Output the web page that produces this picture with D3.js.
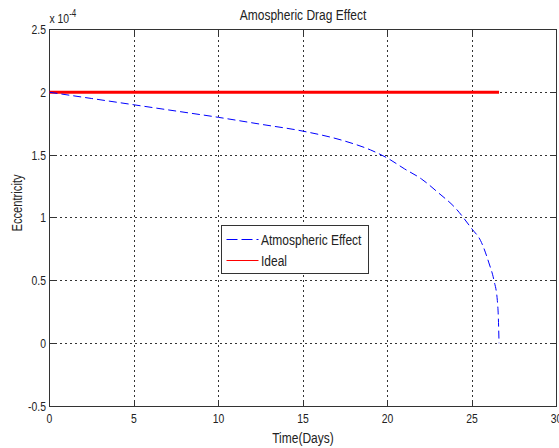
<!DOCTYPE html>
<html>
<head>
<meta charset="utf-8">
<script src="https://cdn.jsdelivr.net/npm/d3@7"></script>
<style>
    body { margin: 0; background: #fff; }
    text { font-family: "Liberation Sans", Arial, sans-serif; fill: #222; }
</style>
</head>
<body>
<div id="plot"></div>
<script>
// values in units of 1e-4
const xTicks = [0, 5, 10, 15, 20, 25, 30];
const yTicks = [-0.5, 0, 0.5, 1, 1.5, 2, 2.5];

const atmDays = [0, 2.5, 5, 7.5, 10, 12.5, 15, 17.5, 19, 20, 21, 22, 23, 24, 25, 25.5, 26, 26.3, 26.5, 26.56, 26.6];
const atmEcc = [2.0, 1.95, 1.9, 1.85, 1.8, 1.745, 1.69, 1.61, 1.54, 1.475, 1.39, 1.31, 1.2, 1.08, 0.91, 0.82, 0.64, 0.5, 0.34, 0.2, 0.0];

const idealDays = [0, 26.6];
const idealEcc = [2, 2];

const legendLabels = ["Atmospheric Effect", "Ideal"];

const width = 559, height = 448;
const margin = { top: 29.5, right: 2.5, bottom: 42, left: 49.5 };
const innerW = width - margin.left - margin.right;
const innerH = height - margin.top - margin.bottom;
const squeeze = 0.8; // the reference text is horizontally condensed

const svg = d3.select("#plot").append("svg")
    .attr("width", width)
    .attr("height", height);

const x = d3.scaleLinear().domain([0, 30]).range([margin.left, margin.left + innerW]);
const y = d3.scaleLinear().domain([-0.5, 2.5]).range([margin.top + innerH, margin.top]);

function narrowAt(px, py, extra = "") {
    return "translate(" + px + "," + py + ")" + extra + " scale(" + squeeze + ",1)";
}

// grid
const grid = svg.append("g")
    .attr("stroke", "#333")
    .attr("stroke-width", 1)
    .attr("stroke-dasharray", "2,3")
    .attr("shape-rendering", "crispEdges");

grid.selectAll("line.v")
    .data(xTicks.slice(1, -1))
    .join("line")
    .attr("x1", d => x(d)).attr("x2", d => x(d))
    .attr("y1", y(2.5)).attr("y2", y(-0.5));

grid.selectAll("line.h")
    .data(yTicks.slice(1, -1))
    .join("line")
    .attr("x1", x(0)).attr("x2", x(30))
    .attr("y1", d => y(d)).attr("y2", d => y(d));

// axes (matlab style ticks inside, box on)
const tickLen = 5;
const axes = svg.append("g")
    .attr("stroke", "#333")
    .attr("stroke-width", 1)
    .attr("shape-rendering", "crispEdges");

xTicks.forEach(d => {
    axes.append("line").attr("x1", x(d)).attr("x2", x(d)).attr("y1", y(-0.5)).attr("y2", y(-0.5) - tickLen);
    axes.append("line").attr("x1", x(d)).attr("x2", x(d)).attr("y1", y(2.5)).attr("y2", y(2.5) + tickLen);
});
yTicks.forEach(d => {
    axes.append("line").attr("x1", x(0)).attr("x2", x(0) + tickLen).attr("y1", y(d)).attr("y2", y(d));
    axes.append("line").attr("x1", x(30)).attr("x2", x(30) - tickLen).attr("y1", y(d)).attr("y2", y(d));
});

axes.append("rect")
    .attr("x", x(0)).attr("y", y(2.5))
    .attr("width", x(30) - x(0)).attr("height", y(-0.5) - y(2.5))
    .attr("fill", "none");

svg.append("g")
    .selectAll("text")
    .data(xTicks)
    .join("text")
    .attr("transform", d => narrowAt(x(d), y(-0.5) + 17))
    .attr("text-anchor", "middle")
    .attr("font-size", "13px")
    .text(d => d);

svg.append("g")
    .selectAll("text")
    .data(yTicks)
    .join("text")
    .attr("transform", d => narrowAt(x(0) - 3.5, y(d) + 4.5))
    .attr("text-anchor", "end")
    .attr("font-size", "13px")
    .text(d => d);

// exponent
const expo = svg.append("text")
    .attr("transform", narrowAt(x(0), 23))
    .attr("font-size", "13px");
expo.append("tspan").text("x 10");
expo.append("tspan").attr("dy", -6).attr("font-size", "10px").text("-4");

// series
const line = d3.line()
    .x(d => x(d[0]))
    .y(d => y(d[1]));

svg.append("path")
    .datum(d3.zip(idealDays, idealEcc))
    .attr("fill", "none")
    .attr("stroke", "#ff0000")
    .attr("stroke-width", 3)
    .attr("d", line);

svg.append("path")
    .datum(d3.zip(atmDays, atmEcc))
    .attr("fill", "none")
    .attr("stroke", "#0000ff")
    .attr("stroke-width", 1)
    .attr("stroke-dasharray", "8,4")
    .attr("d", line.curve(d3.curveMonotoneX));

// title & labels
svg.append("text")
    .attr("transform", narrowAt((x(0) + x(30)) / 2, 20))
    .attr("text-anchor", "middle")
    .attr("font-size", "15px")
    .text("Amospheric Drag Effect");

svg.append("text")
    .attr("transform", narrowAt((x(0) + x(30)) / 2, 443))
    .attr("text-anchor", "middle")
    .attr("font-size", "15px")
    .text("Time(Days)");

svg.append("text")
    .attr("transform", narrowAt(21.5, 203, " rotate(-90)"))
    .attr("text-anchor", "middle")
    .attr("font-size", "14px")
    .text("Eccentricity");

// legend
const legend = svg.append("g").attr("transform", "translate(221,225)");
legend.append("rect")
    .attr("width", 147).attr("height", 48)
    .attr("fill", "#fff")
    .attr("stroke", "#333")
    .attr("shape-rendering", "crispEdges");

const legendStyles = [
    { color: "#0000ff", dash: "11,4", w: 1 },
    { color: "#ff0000", dash: null, w: 1 }
];
legendLabels.forEach((label, i) => {
    const ly = 14.5 + i * 21;
    legend.append("line")
        .attr("x1", 5.5).attr("x2", 37.5)
        .attr("y1", ly).attr("y2", ly)
        .attr("stroke", legendStyles[i].color)
        .attr("stroke-width", legendStyles[i].w)
        .attr("stroke-dasharray", legendStyles[i].dash);
    legend.append("text")
        .attr("transform", "translate(40," + (ly + 5) + ") scale(" + squeeze + ",1)")
        .attr("font-size", "15px")
        .text(label);
});
</script>
</body>
</html>
